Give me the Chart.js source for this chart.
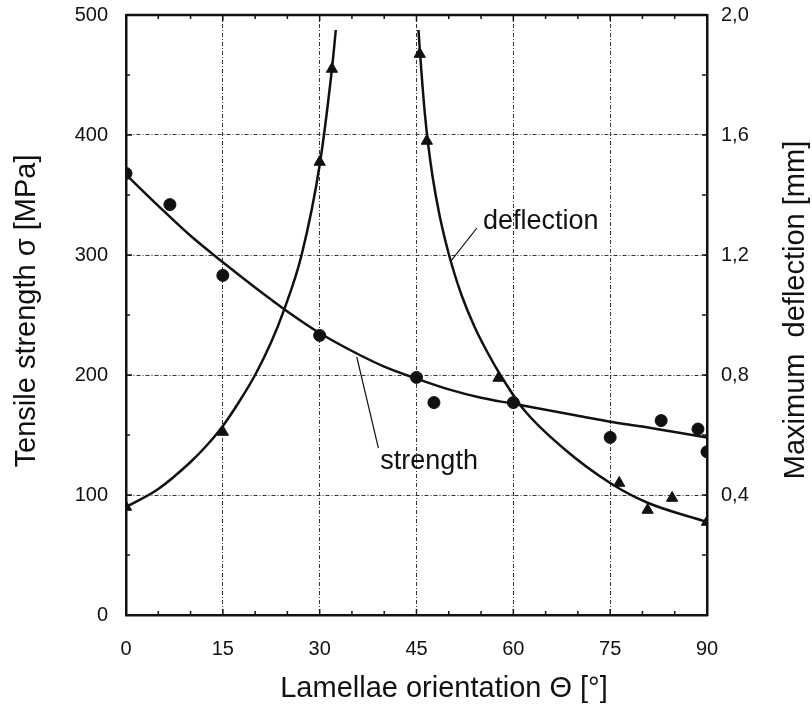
<!DOCTYPE html>
<html>
<head>
<meta charset="utf-8">
<script src="https://cdn.jsdelivr.net/npm/chart.js@4"></script>
<style>
  html, body { margin: 0; padding: 0; background: #fff; }
  #wrap { width: 812px; height: 717px; }
</style>
</head>
<body>
<div id="wrap"><canvas id="chart"></canvas></div>
<script>
// measured points
var strengthAngle = [0, 6.8, 15, 30, 45, 47.7, 60, 75, 82.9, 88.6, 90];
var strengthValue = [368, 342, 283, 233, 198, 177, 177, 148, 162, 155, 136];

var deflectionAngle = [0, 15, 30, 31.9, 45.5, 46.6, 57.7, 76.4, 80.8, 84.6, 90];
var deflectionValue = [0.36, 0.61, 1.51, 1.82, 1.87, 1.58, 0.79, 0.44, 0.35, 0.39, 0.31];

// fitted curves
var strengthFitAngle = [0, 5, 10, 15, 20, 25, 30, 35, 40, 45, 50, 55, 60, 65, 70, 75, 80, 85, 90];
var strengthFitValue = [367, 341, 316, 294, 273, 253, 235, 220, 207, 197, 188, 181, 176, 171, 166, 161, 157, 152.5, 148];

var deflFitLeftAngle = [0, 5, 10, 12.5, 15, 17.5, 20, 22.5, 24.4, 27.2, 30, 31.9, 32.5];
var deflFitLeftValue = [0.36, 0.42, 0.51, 0.565, 0.63, 0.71, 0.80, 0.91, 1.012, 1.2, 1.5, 1.82, 1.95];

var deflFitRightAngle = [45.3, 45.8, 46.3, 46.8, 47.5, 48.5, 49.5, 50.5, 52, 54, 56, 58, 61.6, 67.8, 75, 80.7, 90];
var deflFitRightValue = [1.95, 1.80, 1.67, 1.57, 1.46, 1.34, 1.245, 1.165, 1.065, 0.96, 0.875, 0.80, 0.685, 0.555, 0.44, 0.375, 0.31];

// axis ticks
var angleTicks = [0, 15, 30, 45, 60, 75, 90];
var strengthTicks = [0, 100, 200, 300, 400, 500];
var deflectionTicks = ['0,4', '0,8', '1,2', '1,6', '2,0'];

var FONT = '"Liberation Sans", Arial, Helvetica, sans-serif';
var INK = '#111';

function pts(xs, ys) {
    var out = [];
    for (var i = 0; i < xs.length; i++) out.push({ x: xs[i], y: ys[i] });
    return out;
}

function curve(xs, ys, axis) {
    return {
        type: 'line',
        data: pts(xs, ys),
        yAxisID: axis,
        borderColor: INK,
        borderWidth: 2.5,
        pointRadius: 0,
        fill: false,
        cubicInterpolationMode: 'monotone'
    };
}

// titles, annotations, inner tick marks, top frame
var decor = {
    id: 'decor',
    afterDraw: function(chart) {
        var ctx = chart.ctx;
        var a = chart.chartArea;
        var x = chart.scales.x, y = chart.scales.y, y2 = chart.scales.y2;
        ctx.save();
        ctx.strokeStyle = INK;
        ctx.fillStyle = INK;

        // frame top
        ctx.lineWidth = 2.5;
        ctx.beginPath();
        ctx.moveTo(a.left, a.top);
        ctx.lineTo(a.right, a.top);
        ctx.stroke();

        // inward ticks
        ctx.lineWidth = 1.5;
        ctx.beginPath();
        for (var v = 5; v < 90; v += 5) {
            var px = x.getPixelForValue(v);
            var len = v % 15 === 0 ? 6 : 4;
            ctx.moveTo(px, a.bottom);
            ctx.lineTo(px, a.bottom - len);
            ctx.moveTo(px, a.top);
            ctx.lineTo(px, a.top + len);
        }
        for (var s = 50; s < 500; s += 50) {
            var py = y.getPixelForValue(s);
            ctx.moveTo(a.left, py);
            ctx.lineTo(a.left + (s % 100 === 0 ? 6 : 4), py);
        }
        for (var d = 0.2; d < 2.0; d += 0.2) {
            var py2 = y2.getPixelForValue(d);
            ctx.moveTo(a.right, py2);
            ctx.lineTo(a.right - 5, py2);
        }
        ctx.stroke();

        // annotation pointers
        ctx.lineWidth = 1.2;
        ctx.beginPath();
        ctx.moveTo(x.getPixelForValue(54.35), y.getPixelForValue(322.5));
        ctx.lineTo(x.getPixelForValue(50.2), y.getPixelForValue(294));
        ctx.moveTo(x.getPixelForValue(35.75), y.getPixelForValue(215));
        ctx.lineTo(x.getPixelForValue(39.1), y.getPixelForValue(139));
        ctx.stroke();

        ctx.font = '27px ' + FONT;
        ctx.textAlign = 'left';
        ctx.textBaseline = 'middle';
        ctx.fillText('deflection', x.getPixelForValue(55.3), y.getPixelForValue(327.5));
        ctx.fillText('strength', x.getPixelForValue(39.4), y.getPixelForValue(128));

        // axis titles
        ctx.font = '29px ' + FONT;
        ctx.textAlign = 'center';
        ctx.fillText('Lamellae orientation \u0398 [\u00b0]', 444, 689);

        ctx.save();
        ctx.translate(27, 311);
        ctx.rotate(-Math.PI / 2);
        ctx.fillText('Tensile strength \u03c3 [MPa]', 0, 0);
        ctx.restore();

        ctx.save();
        ctx.translate(796, 310);
        ctx.rotate(-Math.PI / 2);
        ctx.fillText('Maximum  deflection [mm]', 0, 0);
        ctx.restore();

        ctx.restore();
    }
};

function gridColor(lo, hi) {
    return function(c) {
        var v = c.tick ? c.tick.value : null;
        if (v === lo || v === hi) return 'rgba(0,0,0,0)';
        return '#333';
    };
}

function fixVertical(w) {
    return function(s) {
        s.width = w;
        s.paddingTop = 0;
        s.paddingBottom = 0;
    };
}

new Chart(document.getElementById('chart').getContext('2d'), {
    type: 'scatter',
    data: {
        datasets: [
            curve(strengthFitAngle, strengthFitValue, 'y'),
            curve(deflFitLeftAngle, deflFitLeftValue, 'y2'),
            curve(deflFitRightAngle, deflFitRightValue, 'y2'),
            {
                data: pts(strengthAngle, strengthValue),
                yAxisID: 'y',
                pointStyle: 'circle',
                pointRadius: 6,
                backgroundColor: INK,
                borderColor: INK
            },
            {
                data: pts(deflectionAngle, deflectionValue),
                yAxisID: 'y2',
                pointStyle: 'triangle',
                pointRadius: 6.5,
                backgroundColor: INK,
                borderColor: INK
            }
        ]
    },
    options: {
        responsive: true,
        maintainAspectRatio: false,
        animation: false,
        layout: { padding: { top: 15, left: 0, right: 0, bottom: 0 } },
        plugins: {
            legend: { display: false },
            tooltip: { enabled: false }
        },
        scales: {
            x: {
                type: 'linear',
                min: 0,
                max: 90,
                afterFit: function(s) { s.height = 102; s.paddingLeft = 0; s.paddingRight = 0; },
                afterBuildTicks: function(s) {
                    s.ticks = angleTicks.map(function(v) { return { value: v }; });
                },
                ticks: {
                    padding: 22,
                    color: INK,
                    font: { family: FONT, size: 20 },
                    maxRotation: 0,
                    autoSkip: false
                },
                grid: { color: gridColor(0, 90), lineWidth: 1, drawTicks: false },
                border: { display: true, color: INK, width: 2.5, dash: [4, 2, 1, 2] }
            },
            y: {
                type: 'linear',
                position: 'left',
                min: 0,
                max: 500,
                afterFit: fixVertical(126),
                afterBuildTicks: function(s) {
                    s.ticks = strengthTicks.map(function(v) { return { value: v }; });
                },
                ticks: {
                    padding: 18,
                    color: INK,
                    font: { family: FONT, size: 20 }
                },
                grid: { color: gridColor(0, 500), lineWidth: 1, drawTicks: false },
                border: { display: true, color: INK, width: 2.5, dash: [4, 2, 1, 2] }
            },
            y2: {
                type: 'linear',
                position: 'right',
                min: 0,
                max: 2.0,
                afterFit: fixVertical(105),
                afterBuildTicks: function(s) {
                    s.ticks = deflectionTicks.map(function(t) {
                        return { value: parseFloat(t.replace(',', '.')) };
                    });
                },
                ticks: {
                    padding: 14,
                    color: INK,
                    font: { family: FONT, size: 20 },
                    callback: function(v, i) { return deflectionTicks[i]; }
                },
                grid: { display: false, drawTicks: false },
                border: { display: true, color: INK, width: 2.5 }
            }
        }
    },
    plugins: [decor]
});
</script>
</body>
</html>
